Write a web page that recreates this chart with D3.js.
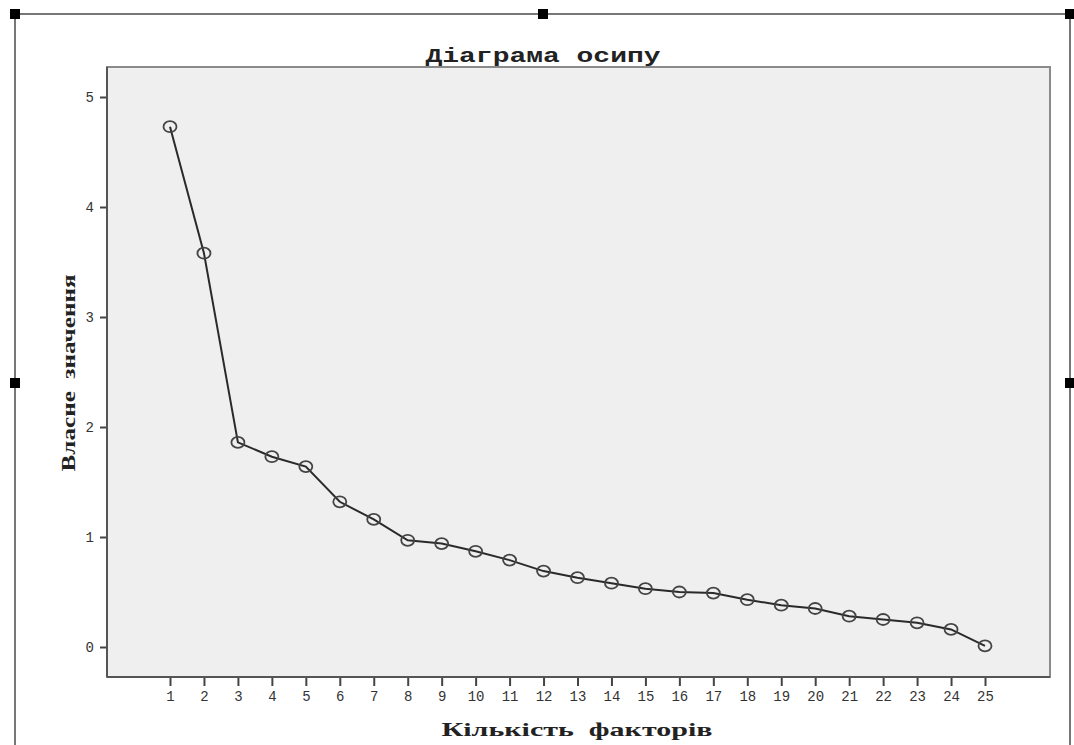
<!DOCTYPE html>
<html>
<head>
<meta charset="utf-8">
<script src="https://cdn.jsdelivr.net/npm/d3@7"></script>
<style>
  html, body { margin: 0; padding: 0; background: #fff; }
  svg { display: block; }
</style>
</head>
<body>
<div id="chart"></div>
<script>
const factors = d3.range(1, 26);
const eigenvalues = [
  4.73, 3.58, 1.86, 1.73, 1.64, 1.32, 1.16, 0.97, 0.94, 0.87,
  0.79, 0.69, 0.63, 0.58, 0.53, 0.50, 0.49, 0.43, 0.38, 0.35,
  0.28, 0.25, 0.22, 0.16, 0.01
];
const yTicks = [0, 1, 2, 3, 4, 5];
const titleText = "Діаграма осипу";
const xLabelText = "Кількість  факторів";
const yLabelText = "Власне  значення";

const width = 1074;
const height = 745;
// plot frame in pixels
const plot = { left: 107, top: 67, right: 1050, bottom: 677 };

const svg = d3.select("#chart")
  .append("svg")
  .attr("width", width)
  .attr("height", height);

// outer selection frame with handles
const frame = svg.append("g").attr("class", "frame");
frame.append("path")
  .attr("d", "M15,745 V14 H1070 V745")
  .attr("fill", "none")
  .attr("stroke", "#777")
  .attr("stroke-width", 2);
const handles = [[15, 14], [543, 14], [1070, 14], [15, 383], [1070, 383]];
frame.selectAll("rect.handle")
  .data(handles)
  .join("rect")
  .attr("class", "handle")
  .attr("x", d => d[0] - 5)
  .attr("y", d => d[1] - 5)
  .attr("width", 10)
  .attr("height", 10)
  .attr("fill", "#000");

const xScale = d3.scaleLinear([1, 25], [170, 985]);
const yScale = d3.scaleLinear([0, 5], [647, 97]);

// plot background
svg.append("rect")
  .attr("x", plot.left)
  .attr("y", plot.top)
  .attr("width", plot.right - plot.left)
  .attr("height", plot.bottom - plot.top)
  .attr("fill", "#efefef")
  .attr("stroke", "#8a8a8a")
  .attr("stroke-width", 2);

// title
svg.append("text")
  .attr("x", 543)
  .attr("y", 62)
  .attr("text-anchor", "middle")
  .attr("font-family", "'Liberation Mono', 'DejaVu Sans Mono', monospace")
  .attr("font-weight", "bold")
  .attr("font-size", 21)
  .attr("fill", "#222")
  .attr("textLength", 235)
  .attr("lengthAdjust", "spacingAndGlyphs")
  .text(titleText);

// axes
const yAxis = svg.append("g")
  .attr("class", "y-axis")
  .attr("transform", `translate(${plot.left},0)`)
  .call(d3.axisLeft(yScale).tickValues(yTicks).tickSize(7).tickPadding(6).tickFormat(d3.format("d")));

const xAxis = svg.append("g")
  .attr("class", "x-axis")
  .attr("transform", `translate(0,${plot.bottom})`)
  .call(d3.axisBottom(xScale).tickValues(factors).tickSize(9).tickPadding(5).tickFormat(d3.format("d")));

[yAxis, xAxis].forEach(ax => {
  ax.select(".domain").remove();
  ax.selectAll(".tick line").attr("stroke", "#444").attr("stroke-width", 2);
  ax.selectAll(".tick text")
    .attr("font-family", "'Liberation Mono', 'DejaVu Sans Mono', monospace")
    .attr("font-size", 14)
    .attr("fill", "#333");
});

// darker left and bottom axis lines
svg.append("line")
  .attr("x1", plot.left).attr("x2", plot.left)
  .attr("y1", plot.top).attr("y2", plot.bottom)
  .attr("stroke", "#555").attr("stroke-width", 2);
svg.append("line")
  .attr("x1", plot.left).attr("x2", plot.right)
  .attr("y1", plot.bottom).attr("y2", plot.bottom)
  .attr("stroke", "#555").attr("stroke-width", 2);

// axis titles
svg.append("text")
  .attr("x", 577)
  .attr("y", 736)
  .attr("text-anchor", "middle")
  .attr("font-family", "'Liberation Serif', 'DejaVu Serif', serif")
  .attr("font-weight", "bold")
  .attr("font-size", 19)
  .attr("fill", "#222")
  .attr("xml:space", "preserve")
  .style("white-space", "pre")
  .attr("textLength", 271)
  .attr("lengthAdjust", "spacingAndGlyphs")
  .text(xLabelText);

svg.append("text")
  .attr("transform", "translate(75,373) rotate(-90)")
  .attr("text-anchor", "middle")
  .attr("font-family", "'Liberation Serif', 'DejaVu Serif', serif")
  .attr("font-weight", "bold")
  .attr("font-size", 19)
  .attr("fill", "#222")
  .style("white-space", "pre")
  .attr("textLength", 197)
  .attr("lengthAdjust", "spacingAndGlyphs")
  .text(yLabelText);

// scree line
const points = factors.map((f, i) => ({ factor: f, value: eigenvalues[i] }));

const line = d3.line()
  .x(d => xScale(d.factor))
  .y(d => yScale(d.value));

svg.append("path")
  .datum(points)
  .attr("d", line)
  .attr("fill", "none")
  .attr("stroke", "#2a2a2a")
  .attr("stroke-width", 2);

svg.selectAll("ellipse.point")
  .data(points)
  .join("ellipse")
  .attr("class", "point")
  .attr("cx", d => xScale(d.factor))
  .attr("cy", d => yScale(d.value))
  .attr("rx", 6.5)
  .attr("ry", 5.5)
  .attr("fill", "none")
  .attr("stroke", "#444")
  .attr("stroke-width", 1.8);
</script>
</body>
</html>
